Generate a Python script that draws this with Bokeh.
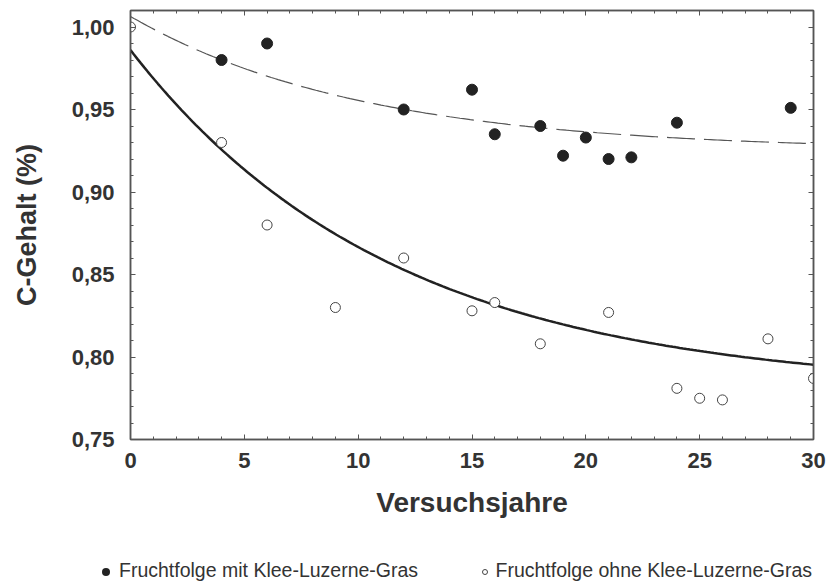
import numpy as np
from bokeh.plotting import figure
from bokeh.layouts import column
from bokeh.models import (LinearAxis, Range1d, FixedTicker, Div,
                          CustomJSTickFormatter)
from bokeh.embed import file_html
from bokeh.resources import INLINE

# --- data ---
years_with = [4, 6, 12, 15, 16, 18, 19, 20, 21, 22, 24, 29]
c_with = [0.980, 0.990, 0.950, 0.962, 0.935, 0.940, 0.922, 0.933, 0.920, 0.921, 0.942, 0.951]

years_without = [0, 4, 6, 9, 12, 15, 16, 18, 21, 24, 25, 26, 28, 30]
c_without = [1.000, 0.930, 0.880, 0.830, 0.860, 0.828, 0.833, 0.808, 0.827, 0.781, 0.775, 0.774, 0.811, 0.787]

# exponential fit curves y = a + b*exp(-k*x) (parameters read from the drawn fits)
fit_with = dict(a=0.925, b=0.0814, k=0.098)
fit_without = dict(a=0.780, b=0.206, k=0.0866)

x_ticks = [0, 5, 10, 15, 20, 25, 30]
y_ticks = [0.75, 0.80, 0.85, 0.90, 0.95, 1.00]

label_with = "Fruchtfolge mit Klee-Luzerne-Gras"
label_without = "Fruchtfolge ohne Klee-Luzerne-Gras"

FONT = "Liberation Sans"
TXT = "#333333"
AX = "#555555"

p = figure(width=827, height=545, output_backend="svg", toolbar_location=None,
           x_range=Range1d(0, 30), y_range=Range1d(0.75, 1.01),
           min_border_left=130, min_border_right=14, min_border_top=10,
           min_border_bottom=106)
p.grid.visible = False
p.outline_line_color = AX
p.outline_line_width = 1.5
p.background_fill_color = "white"
p.border_fill_color = "white"

xx = np.linspace(0, 30, 200)
fw = fit_with["a"] + fit_with["b"] * np.exp(-fit_with["k"] * xx)
fo = fit_without["a"] + fit_without["b"] * np.exp(-fit_without["k"] * xx)

p.line(xx, fw, line_color="#555555", line_width=1.2, line_dash="28 9")
p.line(xx, fo, line_color="#222222", line_width=2.5)

p.scatter(years_with, c_with, size=11, marker="circle",
          fill_color="#222222", line_color="#222222")
p.scatter(years_without, c_without, size=10, marker="circle",
          fill_color="white", line_color="#444444", line_width=1)

fmt_y = CustomJSTickFormatter(code="return tick.toFixed(2).replace('.', ',');")
fmt_x = CustomJSTickFormatter(code="return tick.toFixed(0);")

def style_axis(ax, labels=True):
    ax.axis_line_color = AX
    ax.axis_line_width = 1.5
    ax.major_tick_in = 5
    ax.major_tick_out = 0
    ax.minor_tick_in = 3
    ax.minor_tick_out = 0
    ax.major_tick_line_color = AX
    ax.minor_tick_line_color = AX
    ax.major_label_text_font = FONT
    ax.major_label_text_font_style = "bold"
    ax.major_label_text_font_size = "22px"
    ax.major_label_text_color = TXT
    ax.axis_label_text_font = FONT
    ax.axis_label_text_font_style = "bold"
    ax.axis_label_text_color = TXT
    if not labels:
        ax.major_label_text_font_size = "0px"
        ax.major_label_text_alpha = 0
        ax.major_label_standoff = 0

x_minor = [i for i in range(0, 31) if i % 5 != 0]
y_minor = [round(0.75 + i * 0.01, 2) for i in range(0, 27) if i % 5 != 0]

xa = p.xaxis[0]
style_axis(xa)
xa.ticker = FixedTicker(ticks=x_ticks, minor_ticks=x_minor)
xa.formatter = fmt_x
xa.major_label_standoff = 13
xa.axis_label = "Versuchsjahre"
xa.axis_label_text_font_size = "28px"
xa.axis_label_standoff = 16

ya = p.yaxis[0]
style_axis(ya)
ya.ticker = FixedTicker(ticks=y_ticks, minor_ticks=y_minor)
ya.formatter = fmt_y
ya.major_label_standoff = 16
ya.axis_label = "C-Gehalt (%)"
ya.axis_label_text_font_size = "27px"
ya.axis_label_standoff = 27

top = LinearAxis()
style_axis(top, labels=False)
top.ticker = FixedTicker(ticks=x_ticks, minor_ticks=x_minor)
p.add_layout(top, "above")

right = LinearAxis()
style_axis(right, labels=False)
right.ticker = FixedTicker(ticks=y_ticks, minor_ticks=y_minor)
p.add_layout(right, "right")

# legend strip below the chart
dot_filled = ('<span style="display:inline-block;width:8px;height:8px;border-radius:50%;'
              'background:#222;margin-right:9px;vertical-align:middle;"></span>')
dot_open = ('<span style="display:inline-block;width:6px;height:6px;border-radius:50%;'
            'background:#fff;border:1px solid #444;margin-right:7px;vertical-align:middle;"></span>')
item_style = ("position:absolute;top:14px;white-space:nowrap;line-height:22px;"
              f"font-family:'{FONT}',sans-serif;font-size:19.5px;color:{TXT};")
legend_html = (
    '<div style="position:relative;width:827px;height:37px;">'
    f'<span style="{item_style}left:102px;">{dot_filled}{label_with}</span>'
    f'<span style="{item_style}right:15px;">{dot_open}{label_without}</span>'
    '</div>'
)
lg = Div(text=legend_html, width=827, height=37, margin=0)

open("out.html", "w").write(file_html(column(p, lg, spacing=0), INLINE))
